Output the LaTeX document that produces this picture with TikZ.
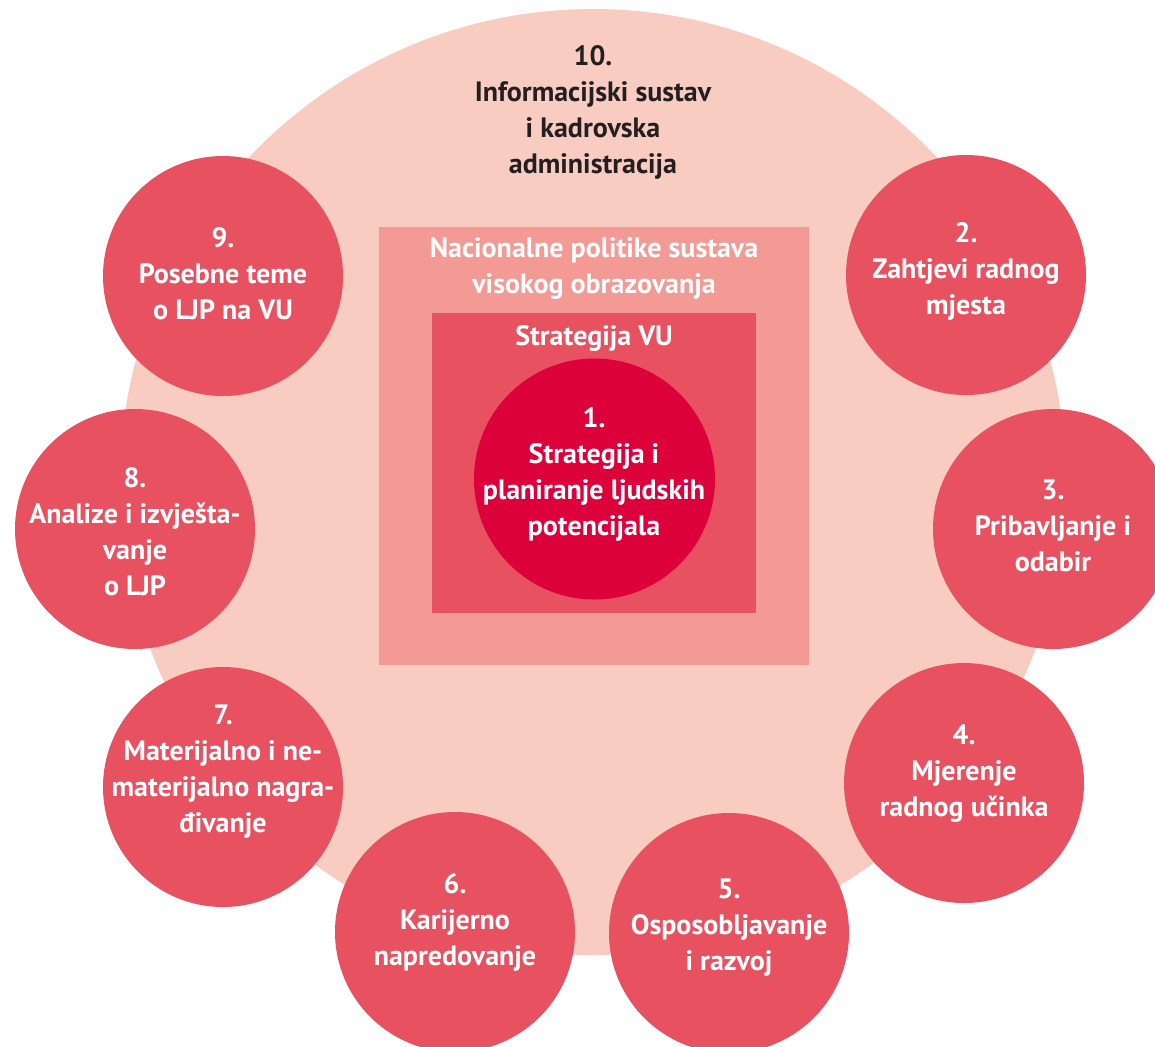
\documentclass[tikz,border=0pt]{standalone}
\usepackage{fontspec}
\setmainfont{PT Sans}
\usepackage{xcolor}
\definecolor{ringpink}{HTML}{F9CCC2}
\definecolor{policypink}{HTML}{F39A95}
\definecolor{stratred}{HTML}{E75160}
\definecolor{corered}{HTML}{DC003B}
\definecolor{titledark}{HTML}{231F20}
\usetikzlibrary{positioning}

\tikzset{
  area/.style={circle, fill=stratred, minimum size=120pt, inner sep=0pt},
  lbl/.style={align=center, text=white, font=\bfseries\fontsize{14}{18}\selectfont},
}

\begin{document}
\begin{tikzpicture}[x=0.5pt, y=-0.5pt]
        \useasboundingbox (0,0) rectangle (1155,1046);
        \clip (0,0) rectangle (1155,1046);
        % Outer ring (10)
        \node[circle, fill=ringpink, minimum size=473pt, inner sep=0pt] (ring) at (593,482) {};
        \node[lbl, text=titledark] (ringtext) at (593,112) {10.\\Informacijski sustav\\i kadrovska\\administracija};
        % National policy and institution strategy
        \node[fill=policypink, minimum width=215pt, minimum height=219pt, inner sep=0pt] (policy) at (594,446) {};
        \node[lbl] (policytext) at (594,269) {Nacionalne politike sustava\\visokog obrazovanja};
        \node[fill=stratred, minimum width=162pt, minimum height=150pt, inner sep=0pt] (strategy) at (594,463) {};
        \node[lbl] (strategytext) at (594,338) {Strategija VU};
        % Core (1)
        \node[area, fill=corered, minimum size=120.5pt] (core) at (594.5,479) {};
        \node[lbl] (coretext) at (594,474) {1.\\Strategija i\\planiranje ljudskih\\potencijala};
        % Surrounding areas 2--9
        \foreach \id/\cx/\cy/\ty/\txt in {
            2/966/275/271/{2.\\Zahtjevi radnog\\mjesta},
            3/1053/529/526/{3.\\Pribavljanje i\\odabir},
            4/964/783/774/{4.\\Mjerenje\\radnog učinka},
            5/729/933/928/{5.\\Osposobljavanje\\i razvoj},
            6/455/932/922/{6.\\Karijerno\\napredovanje},
            7/223/787/772/{7.\\Materijalno i ne-\\materijalno nagra-\\đivanje},
            8/135/529/532/{8.\\Analize i izvješta-\\vanje\\o LJP},
            9/223/276/274/{9.\\Posebne teme\\o LJP na VU}} {
          \node[area] (area\id) at (\cx,\cy) {};
          \node[lbl] (areatext\id) at (\cx,\ty) {\txt};
        }
      \end{tikzpicture}
\end{document}
